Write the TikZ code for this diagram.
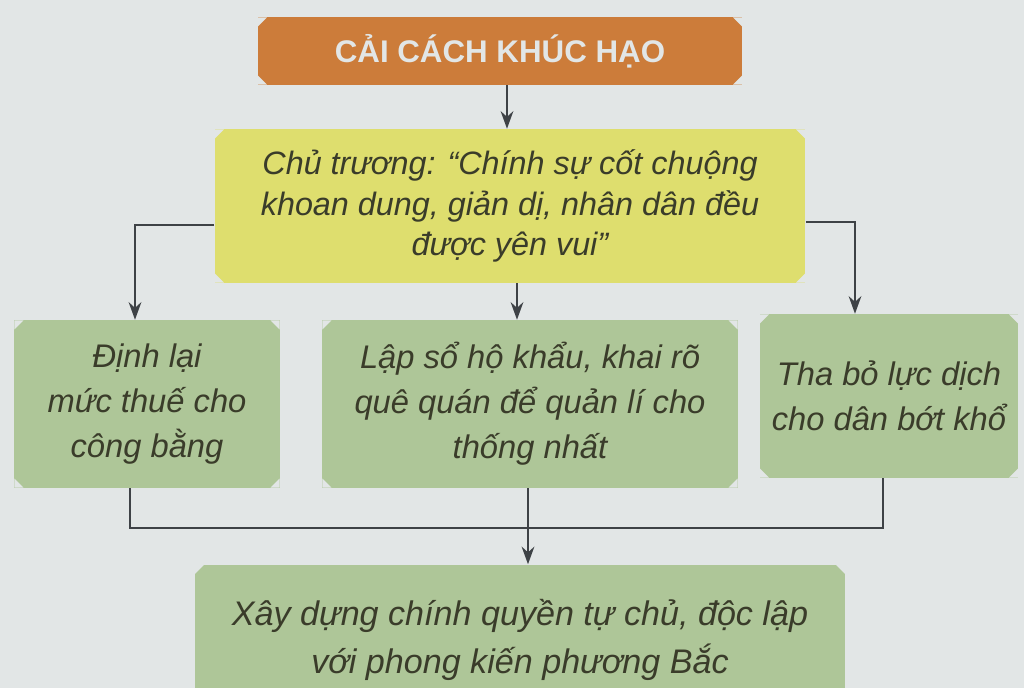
\documentclass[tikz,border=0pt]{standalone}
\usepackage{fontspec}
\setmainfont{Liberation Sans}
\usetikzlibrary{arrows.meta, positioning, calc}

\definecolor{nen}{RGB}{226,230,230}
\definecolor{cam}{RGB}{204,124,58}
\definecolor{vang}{RGB}{222,222,110}
\definecolor{xanh}{RGB}{174,198,152}
\definecolor{chu}{RGB}{58,60,42}
\definecolor{net}{RGB}{62,66,70}

\tikzset{
    hop/.style={rectangle, inner sep=0pt, align=center, text=chu,
        font=\itshape\fontsize{9.2}{11.4}\selectfont,
        path picture={
            \foreach \g/\sx/\sy in {north west/1/-1, north east/-1/-1, south west/1/1, south east/-1/1}
                \fill[nen] (path picture bounding box.\g) -- ++(\sx*0.09cm,0) -- ++(-\sx*0.09cm,\sy*0.09cm) -- cycle;
        }},
    tieude/.style={hop, fill=cam, text=nen, font=\bfseries\fontsize{8.9}{10}\selectfont},
    chutruong/.style={hop, fill=vang},
    bienphap/.style={hop, fill=xanh, font=\itshape\fontsize{9.3}{12.8}\selectfont},
    ketqua/.style={hop, fill=xanh, font=\itshape\fontsize{9.7}{13.8}\selectfont},
    line/.style={draw=net, line width=0.6pt},
    conn/.style={line, -{Stealth[length=5pt, width=3.6pt]}}
}

\begin{document}
\begin{tikzpicture}[x=0.01cm, y=-0.01cm]
    \clip (0,0) rectangle (1024,688);
    \fill[nen] (0,0) rectangle (1024,688);

    % Title
    \node[tieude, minimum width=4.84cm, minimum height=0.67cm] (tit) at (500,51) {CẢI CÁCH KHÚC HẠO};

    % Policy
    \node[chutruong, minimum width=5.9cm, minimum height=1.53cm] (ct) at (510,206)
        {Chủ trương: ``Chính sự cốt chuộng\\khoan dung, giản dị, nhân dân đều\\được yên vui''};

    % Measures
    \node[bienphap, minimum width=2.65cm, minimum height=1.67cm] (thue) at (147,404)
        {Định lại\\mức thuế cho\\công bằng};
    \node[bienphap, minimum width=4.15cm, minimum height=1.67cm] (hokhau) at (530,404)
        {Lập sổ hộ khẩu, khai rõ\\quê quán để quản lí cho\\thống nhất};
    \node[bienphap, minimum width=2.58cm, minimum height=1.63cm] (luc) at (889,396)
        {Tha bỏ lực dịch\\cho dân bớt khổ};

    % Result
    \node[ketqua, minimum width=6.5cm, minimum height=1.5cm] (kq) at (520,640)
        {Xây dựng chính quyền tự chủ, độc lập\\với phong kiến phương Bắc};

    % Connectors
    \draw[conn] ($(tit.south)+(7,0)$) -- ($(ct.north)+(-3,0)$);
    \draw[conn] ($(ct.west)+(0,19)$) -| ($(thue.north)+(-12,0)$);
    \draw[conn] ($(ct.south)+(7,0)$) -- ($(hokhau.north)+(-13,0)$);
    \draw[conn] ($(ct.east)+(0,16)$) -| ($(luc.north)+(-34,0)$);

    \coordinate (gop) at (527,528);
    \draw[line] ($(thue.south)+(-17,0)$) |- (gop) -| ($(luc.south)+(-6,0)$);
    \draw[conn] ($(hokhau.south)+(-2,0)$) -- ($(kq.north)+(8,0)$);
\end{tikzpicture}
\end{document}
